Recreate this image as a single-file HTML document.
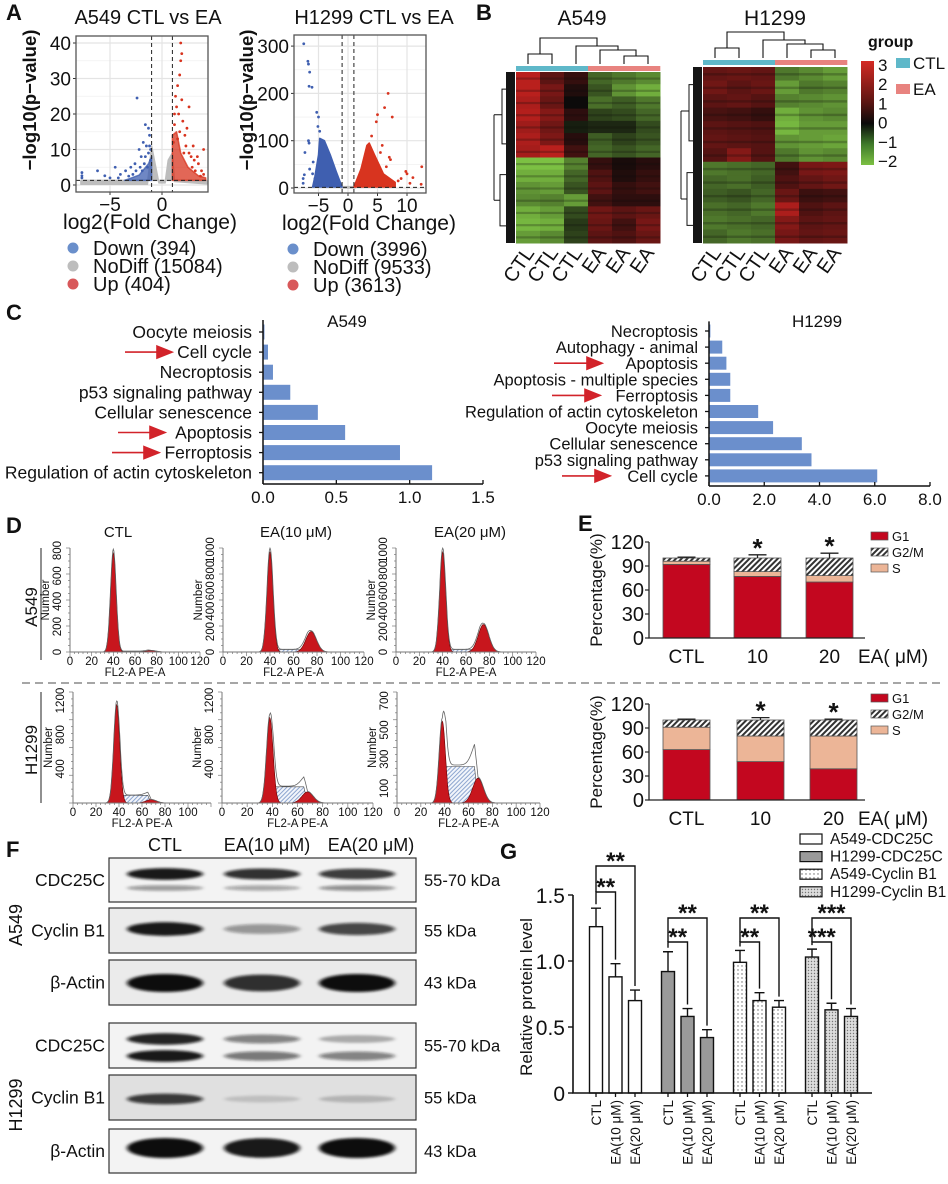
<!DOCTYPE html>
<html><head><meta charset="utf-8">
<style>
body{margin:0;background:#fff;width:948px;height:1179px;overflow:hidden}
svg text{font-family:"Liberation Sans",Arial,sans-serif;fill:#111}
</style></head>
<body>
<svg id="fig" width="948" height="1179" viewBox="0 0 948 1179" xmlns="http://www.w3.org/2000/svg">
<defs>
  <pattern id="hatch" width="4" height="4" patternUnits="userSpaceOnUse" patternTransform="rotate(45)"><rect width="4" height="4" fill="#fff"/><rect width="2" height="4" fill="#333"/></pattern>
  <pattern id="blueHatch" width="3" height="3" patternUnits="userSpaceOnUse" patternTransform="rotate(45)"><rect width="3" height="3" fill="#f2f5fb"/><rect width="1" height="3" fill="#8da5cf"/></pattern>
  <pattern id="dots" width="4" height="4" patternUnits="userSpaceOnUse"><rect width="4" height="4" fill="#fff"/><circle cx="2" cy="2" r="0.7" fill="#666"/></pattern>
  <pattern id="dotsGrey" width="3" height="3" patternUnits="userSpaceOnUse"><rect width="3" height="3" fill="#ddd"/><circle cx="1.5" cy="1.5" r="0.7" fill="#777"/></pattern>
  <linearGradient id="cbar" x1="0" y1="0" x2="0" y2="1">
    <stop offset="0" stop-color="#d42a24"/><stop offset="0.4" stop-color="#5a1512"/><stop offset="0.6" stop-color="#0a0a0a"/><stop offset="0.8" stop-color="#3f7a2a"/><stop offset="1" stop-color="#7cc043"/>
  </linearGradient>
  <filter id="blur" x="-20%" y="-100%" width="140%" height="300%"><feGaussianBlur stdDeviation="2 1.3"/></filter>
</defs>

<text x="6" y="20" font-size="22" font-weight="bold">A</text>
<text x="476" y="20" font-size="22" font-weight="bold">B</text>
<text x="6" y="320" font-size="22" font-weight="bold">C</text>
<text x="6" y="533" font-size="22" font-weight="bold">D</text>
<text x="578" y="531" font-size="22" font-weight="bold">E</text>
<text x="6" y="857" font-size="22" font-weight="bold">F</text>
<text x="500" y="859" font-size="22" font-weight="bold">G</text>

<text x="148" y="24" font-size="20" text-anchor="middle">A549 CTL vs EA</text>
<text x="374" y="24" font-size="20" text-anchor="middle">H1299  CTL vs EA</text>
<text transform="translate(36,100) rotate(-90)" font-size="18.5" font-weight="bold" text-anchor="middle">−log10(p−value)</text>
<text transform="translate(253,100) rotate(-90)" font-size="18.5" font-weight="bold" text-anchor="middle">−log10(p−value)</text>
<text x="150" y="229" font-size="21" text-anchor="middle">log2(Fold Change)</text>
<text x="369" y="230" font-size="21" text-anchor="middle">log2(Fold Change)</text>

<text x="582" y="25" font-size="21" text-anchor="middle">A549</text>
<text x="775" y="25" font-size="21" text-anchor="middle">H1299</text>
<text x="868" y="47" font-size="16" font-weight="bold">group</text>
<rect x="896" y="58" width="14" height="10" fill="#5fb8c9"/>
<text x="913" y="69" font-size="17">CTL</text>
<rect x="896" y="84" width="14" height="10" fill="#e8837f"/>
<text x="913" y="95" font-size="17">EA</text>
<rect x="861" y="61" width="13" height="104" fill="url(#cbar)"/>

<text x="347" y="327" font-size="17" text-anchor="middle">A549</text>
<text x="817" y="327" font-size="17" text-anchor="middle">H1299</text>

<text x="118" y="537" font-size="15" text-anchor="middle">CTL</text>
<text x="296" y="537" font-size="15" text-anchor="middle">EA(10 μM)</text>
<text x="470" y="537" font-size="15" text-anchor="middle">EA(20 μM)</text>
<text transform="translate(37,607) rotate(-90)" font-size="17" text-anchor="middle">A549</text>
<line x1="41" y1="548" x2="41" y2="660" stroke="#222" stroke-width="1"/>
<text transform="translate(37,750) rotate(-90)" font-size="17" text-anchor="middle">H1299</text>
<line x1="41" y1="692" x2="41" y2="803" stroke="#222" stroke-width="1"/>
<line x1="22" y1="683" x2="940" y2="683" stroke="#888" stroke-width="1.5" stroke-dasharray="8,5"/>

<text transform="translate(602,590) rotate(-90)" font-size="17" text-anchor="middle">Percentage(%)</text>
<text transform="translate(602,752) rotate(-90)" font-size="17" text-anchor="middle">Percentage(%)</text>

<text x="165" y="851" font-size="18" text-anchor="middle">CTL</text>
<text x="267" y="851" font-size="18" text-anchor="middle">EA(10 μM)</text>
<text x="371" y="851" font-size="18" text-anchor="middle">EA(20 μM)</text>
<text transform="translate(22,925) rotate(-90)" font-size="18" text-anchor="middle">A549</text>
<text transform="translate(22,1105) rotate(-90)" font-size="18" text-anchor="middle">H1299</text>

<text transform="translate(532,997) rotate(-90)" font-size="17" text-anchor="middle">Relative protein level</text>

<g id="dyn"></g>
</svg>

<script>
// ---------------- DATA ----------------
const a549DownPts = [[-7.7,3.5],[-7.7,2.6],[-7.7,2],[-6.2,4],[-5.5,2.6],[-4.5,5],[-4,3],[-3.5,4],[-3,5],[-2.6,6],[-2.4,24.5],[-2.2,10],[-2,8],[-1.8,12],[-1.6,17],[-1.5,11],[-1.3,9],[-1.2,14],[-1.1,7],[-1.4,5],[-2.8,3],[-1.9,4],[-1.6,8],[-1.2,11],[-2.5,4],[-3.2,2.5],[-4.2,2],[-5,2],[-1.7,6],[-2.1,5],[-1.3,16],[-1.1,10]];
const a549DownCloud = [[-1,1.3],[-3.6,1.3],[-2.2,2.8],[-1.3,6],[-1,8]];
const a549UpPts = [[1.8,40],[1.9,37],[1.8,35],[1.7,31],[1.5,28],[2.6,22],[1.3,25],[1.6,20],[2,18],[3,11],[4,10],[1.2,17],[2.2,14],[3.5,6],[4,3],[2.8,8],[1.5,13],[1.1,12],[2.4,16],[1.9,24],[3.2,4],[2.6,9],[1.2,20],[1.4,22],[2.3,11],[3.4,8],[2.9,5],[3.8,4],[1.7,15],[2.1,9],[3.1,7],[3.7,2.5]];
const a549UpCloud = [[1,1.3],[1,14],[1.4,15],[1.8,9],[2.5,5],[3.5,2.6],[4.2,2],[4.2,1.3]];
const a549GreyCloud = [[-7.8,0.2],[-1.4,0.2],[-1.0,11],[-0.6,5],[-0.3,0.6],[0.3,0.6],[0.6,7],[1,9],[1.2,1],[4.3,0.3],[4.3,1.3],[-7.8,1.3]];
const h1299DownPts = [[-7.5,305],[-6.8,268],[-6.7,262],[-6.5,245],[-6.6,215],[-6.1,213],[-5.3,160],[-5,150],[-5.1,130],[-4.8,120],[-7.3,75],[-6.7,100],[-7.4,28],[-7.6,20],[-7.6,10],[-6.5,40],[-6,30],[-5.9,55],[-6.6,95],[-5.6,20]];
const h1299DownCloud = [[-1,2],[-6,2],[-5.6,25],[-5,70],[-4.8,105],[-4,100],[-3,70],[-2,35]];
const h1299UpPts = [[6.8,200],[6.2,170],[5,155],[4.8,140],[7.5,150],[4,110],[5.8,90],[7,65],[7.2,60],[9.8,35],[10,30],[11,22],[12.5,45],[12.4,8],[9,20],[8.5,15],[10.5,10],[5.5,75],[6.5,45]];
const h1299UpCloud = [[1,2],[2.2,40],[3.2,90],[3.6,95],[4.5,70],[6,30],[8,12],[8,2]];
const h1299GreyCloud = [[-1.2,0],[1.2,0],[1,3],[-1,3]];
const a549YTicks = [0,10,20,30,40];
const a549XTicks = [-5,0];
const h1299YTicks = [0,100,200,300];
const h1299XTicks = [-5,0,5,10];
const a549Legend = ['Down (394)','NoDiff (15084)','Up (404)'];
const h1299Legend = ['Down (3996)','NoDiff (9533)','Up (3613)'];

const heatA549 = [
 [2.6,1.2,0.6,-1,-1.2,-1.4],[2.6,1.6,0.3,-0.8,-1.5,-1.8],[2.4,1.4,0.0,-1.1,-0.9,-1.2],[2.5,1.8,0.5,-0.6,-0.7,-1.0],
 [2.2,1.5,-0.2,-0.3,-0.3,-0.7],[2.4,1.7,0.4,-0.9,-0.6,-0.8],[2.3,2.6,0.8,-1.0,-0.8,-1.0],
 [-2.0,-2.0,-1.3,0.6,0.2,0.4],[-1.8,-1.8,-1.0,1.0,0.3,0.6],[-1.5,-1.6,-0.8,1.2,0.6,0.8],[-1.4,-1.3,-1.6,0.8,0.5,0.5],
 [-1.8,-1.6,-0.7,1.5,1.2,1.4],[-1.9,-1.8,-0.5,1.4,0.8,1.6],[-1.6,-1.4,-0.6,1.2,1.0,1.4]];
const heatH1299 = [
 [1.3,1.4,1.3,-1.2,-1.4,-1.6],[1.5,1.2,1.4,-1.6,-1.2,-1.3],[1.2,1.3,1.1,-1.3,-1.4,-1.5],[0.9,0.8,0.6,-1.8,-1.5,-1.4],
 [1.2,1.1,1.0,-1.9,-1.6,-1.6],[1.3,1.2,1.1,-1.5,-1.6,-1.7],[1.1,1.8,1.1,-1.2,-1.5,-1.4],
 [-1.2,-1.1,-1.0,0.8,1.6,1.7],[-1.0,-1.1,-0.9,1.0,1.3,1.5],[-0.9,-0.8,-1.0,1.4,0.7,0.8],[-1.1,-1.0,-1.2,2.4,1.0,1.2],
 [-1.2,-1.1,-1.0,1.8,1.2,1.3],[-1.0,-1.2,-1.1,1.6,1.3,1.4]];
const heatSamples = ['CTL','CTL','CTL','EA','EA','EA'];
const heatScaleTicks = [3,2,1,0,-1,-2];

const goA549Terms = ['Oocyte meiosis','Cell cycle','Necroptosis','p53 signaling pathway','Cellular senescence','Apoptosis','Ferroptosis','Regulation of actin cytoskeleton'];
const goA549Values = [0.01,0.034,0.068,0.186,0.374,0.56,0.934,1.153];
const goA549Arrows = [false,true,false,false,false,true,true,false];
const goA549Ticks = [0,0.5,1.0,1.5];
const goH1299Terms = ['Necroptosis','Autophagy - animal','Apoptosis','Apoptosis - multiple species','Ferroptosis','Regulation of actin cytoskeleton','Oocyte meiosis','Cellular senescence','p53 signaling pathway','Cell cycle'];
const goH1299Values = [0.05,0.48,0.63,0.77,0.77,1.78,2.32,3.36,3.71,6.09];
const goH1299Arrows = [false,false,true,false,true,false,false,false,false,true];
const goH1299Ticks = [0,2,4,6,8];

const flowTopYMax = [820,1020,1020];
const flowTopG1 = [780,980,980];
const flowTopG2 = [12,200,270];
const flowTopS = [6,25,25];
const flowTopYTicks = [[0,200,400,600,800],[0,200,400,600,800,1000],[0,200,400,600,800,1000]];
const flowBotYMax = [1300,1300,760];
const flowBotG1 = [1150,1000,560];
const flowBotG2 = [40,130,170];
const flowBotS = [90,190,250];
const flowBotYTicks = [[400,800,1200],[400,800,1200],[100,300,500,700]];
const flowXTicks = [0,20,40,60,80,100,120];

const cycleGroups = ['CTL','10','20'];
const cycleTopG1 = [92,77,70];
const cycleTopS = [4,6,8];
const cycleTopG2M = [4,17,22];
const cycleTopErr = [1,4,6];
const cycleBotG1 = [63,48,39];
const cycleBotS = [28,32,41];
const cycleBotG2M = [9,20,20];
const cycleBotErr = [1,3,1];
const cycleSig = [false,true,true];
const cycleYTicks = [0,30,60,90,120];

const blotA549CDC25CUpper = [0.95,0.85,0.8];
const blotA549CDC25CLower = [0.4,0.35,0.45];
const blotA549CyclinB1 = [0.95,0.4,0.75];
const blotA549Actin = [1,0.85,1];
const blotH1299CDC25CUpper = [0.9,0.5,0.3];
const blotH1299CDC25CLower = [0.95,0.55,0.5];
const blotH1299CyclinB1 = [0.8,0.15,0.2];
const blotH1299Actin = [1,0.95,1];

const proteinSeries = ['A549-CDC25C','H1299-CDC25C','A549-Cyclin B1','H1299-Cyclin B1'];
const proteinConds = ['CTL','EA(10 μM)','EA(20 μM)'];
const proteinA549CDC25C = [1.26,0.88,0.70];
const proteinH1299CDC25C = [0.92,0.58,0.42];
const proteinA549CyclinB1 = [0.99,0.70,0.65];
const proteinH1299CyclinB1 = [1.03,0.63,0.58];
const proteinA549CDC25CErr = [0.14,0.10,0.08];
const proteinH1299CDC25CErr = [0.15,0.06,0.06];
const proteinA549CyclinB1Err = [0.09,0.06,0.05];
const proteinH1299CyclinB1Err = [0.06,0.05,0.06];
const proteinSigInner = ['**','**','**','***'];
const proteinSigOuter = ['**','**','**','***'];
const proteinYTicks = [0,0.5,1.0,1.5];

// ---------------- DRAWING ----------------
const NS='http://www.w3.org/2000/svg';
const root=document.getElementById('dyn');
function mk(tag,attrs,parent){const e=document.createElementNS(NS,tag);for(const k in attrs)e.setAttribute(k,attrs[k]);(parent||root).appendChild(e);return e;}
function grp(parent){return mk('g',{},parent);}
function txt(s,x,y,size,anchor,parent,extra){const t=mk('text',Object.assign({x:x,y:y,'font-size':size,'text-anchor':anchor||'start'},extra||{}),parent);t.textContent=s;return t;}

function volcano(cfg){
  const g=grp();
  
  
  const sx=v=>cfg.x0+(v-cfg.xmin)*cfg.kx, sy=v=>cfg.y0-v*cfg.ky;
  const bg=mk('rect',{x:cfg.bx0,y:cfg.by0,width:cfg.bx1-cfg.bx0,height:cfg.by1-cfg.by0,fill:'#fff'},g);
  
  
  cfg.yTicks.forEach((t,i)=>{
    const gl=mk('line',{x1:cfg.bx0,x2:cfg.bx1,y1:sy(t),y2:sy(t),stroke:'#e4e4e4','stroke-width':1.2},g);
    
    
    if(i<cfg.yTicks.length-1){const m=(t+cfg.yTicks[i+1])/2;const gm=mk('line',{x1:cfg.bx0,x2:cfg.bx1,y1:sy(m),y2:sy(m),stroke:'#f0f0f0','stroke-width':0.8},g);
      
      }
    const tl=txt(String(t),cfg.bx0-5,sy(t)+7,19,'end',g);
    
    
    const tk=mk('line',{x1:cfg.bx0-3,x2:cfg.bx0,y1:sy(t),y2:sy(t),stroke:'#333'},g);
    
    
  });
  cfg.xTicks.forEach(t=>{
    const gl=mk('line',{x1:sx(t),x2:sx(t),y1:cfg.by0,y2:cfg.by1,stroke:'#e4e4e4','stroke-width':1.2},g);
    
    
    const tl=txt(t<0?'−'+Math.abs(t):String(t),sx(t),cfg.by1+19,19,'middle',g);
    
    
    const tk=mk('line',{x1:sx(t),x2:sx(t),y1:cfg.by1,y2:cfg.by1+3,stroke:'#333'},g);
    
    
  });
  const poly=(pts,col,nm,op)=>{const p=mk('polygon',{points:pts.map(q=>sx(q[0])+','+sy(q[1])).join(' '),fill:col,'fill-opacity':op,stroke:col,'stroke-width':1.5,'stroke-opacity':op,'stroke-linejoin':'round'},g);
    
    };
  poly(cfg.grey,'#bdbdbd','nodiff-cloud',1);
  poly(cfg.downCloud,'#3f5fb0','down-cloud',cfg.op);
  poly(cfg.upCloud,'#d8341f','up-cloud',cfg.op);
  cfg.down.forEach(p=>{const c=mk('circle',{cx:sx(p[0]),cy:sy(p[1]),r:1.4,fill:'#3f5fb0'},g);
    
    });
  cfg.up.forEach(p=>{const c=mk('circle',{cx:sx(p[0]),cy:sy(p[1]),r:1.4,fill:'#d8341f'},g);
    
    });
  [-1,1].forEach(v=>{const l=mk('line',{x1:sx(v),x2:sx(v),y1:cfg.by0,y2:cfg.by1,stroke:'#222','stroke-dasharray':'4,3','stroke-width':1},g);
    
    });
  const h=mk('line',{x1:cfg.bx0,x2:cfg.bx1,y1:sy(1.3),y2:sy(1.3),stroke:'#222','stroke-dasharray':'4,3','stroke-width':1},g);
  
  
  const fr=mk('rect',{x:cfg.bx0,y:cfg.by0,width:cfg.bx1-cfg.bx0,height:cfg.by1-cfg.by0,fill:'none',stroke:'#555','stroke-width':1.3},g);
  
  
  const cols=['#6a8fcb','#bdbdbd','#d8585a'];
  cfg.legend.forEach((s,i)=>{
    const c=mk('circle',{cx:cfg.lx,cy:cfg.ly+i*18,r:5.5,fill:cols[i]},g);
    
    
    const t=txt(s,cfg.lx+20,cfg.ly+i*18+7,20,'start',g);
    
    
  });
}
volcano({name:'volcano-a549',bx0:76,bx1:208,by0:36,by1:192,x0:162,xmin:0,kx:10.4,y0:185,ky:3.55,op:0.75,
  yTicks:a549YTicks,xTicks:a549XTicks,grey:a549GreyCloud,downCloud:a549DownCloud,upCloud:a549UpCloud,down:a549DownPts,up:a549UpPts,legend:a549Legend,lx:73,ly:248});
volcano({name:'volcano-h1299',bx0:294,bx1:426,by0:35,by1:193,x0:348,xmin:0,kx:5.9,y0:188,ky:0.473,op:1,
  yTicks:h1299YTicks,xTicks:h1299XTicks,grey:h1299GreyCloud,downCloud:h1299DownCloud,upCloud:h1299UpCloud,down:h1299DownPts,up:h1299UpPts,legend:h1299Legend,lx:293,ly:249});

function heatColor(v){
  const c=Math.max(-2,Math.min(3,v));
  if(c>=0){const t=c/3;return `rgb(${Math.round(12+t*200)},${Math.round(10+t*25)},${Math.round(10+t*22)})`;}
  const t=-c/2;return `rgb(${Math.round(12+t*112)},${Math.round(12+t*180)},${Math.round(10+t*57)})`;
}
function heatmap(data,x0,y0,w,h,barY,name){
  const g=grp();
  
  
  const cw=w/6, rh=h/data.length;
  data.forEach((row,r)=>row.forEach((v,c)=>{
    const cell=mk('rect',{x:x0+c*cw,y:y0+r*rh,width:cw+0.5,height:rh+0.5,fill:heatColor(v)},g);
    
    
    const s=mk('rect',{x:x0+c*cw,y:y0+r*rh+rh*0.45,width:cw,height:rh*0.18,fill:heatColor(v*0.75)},g);
    
    
  }));
  heatSamples.forEach((s,c)=>{
    const b=mk('rect',{x:x0+c*cw,y:barY,width:cw+0.3,height:5,fill:s==='CTL'?'#5fb8c9':'#e8837f'},g);
    
    
    const cx=x0+c*cw+cw/2;
    const t=txt(s,cx+7,y0+h+10,20,'end',g,{transform:`rotate(-55 ${cx+7} ${y0+h+10})`});
    
    
  });
  const d=mk('path',{d:`M${x0-2},${y0+2} V${y0+h-2} M${x0-22},${y0+h*0.25} H${x0-14} V${y0+h*0.1} H${x0-6} M${x0-14},${y0+h*0.25} V${y0+h*0.42} H${x0-6} M${x0-22},${y0+h*0.25} V${y0+h*0.75} M${x0-22},${y0+h*0.75} H${x0-16} V${y0+h*0.6} H${x0-8} M${x0-16},${y0+h*0.75} V${y0+h*0.9} H${x0-8}`,fill:'none',stroke:'#111','stroke-width':1},g);
  
  
  const dense=mk('rect',{x:x0-10,y:y0,width:9,height:h,fill:'#151515'},g);
  
  
  const c=i=>x0+cw*(i+0.5);
  const top=barY-2;
  const cd=mk('path',{d:`M${c(0)},${top} V${top-10} H${c(1)} V${top} M${(c(0)+c(1))/2},${top-10} V${top-26} H${(c(2)+ (c(3)+(c(4)+c(5))/2)/2)/2} V${top-18} M${c(2)},${top} V${top-18} H${(c(3)+(c(4)+c(5))/2)/2} V${top-14} H${c(3)} V${top} M${(c(3)+(c(4)+c(5))/2)/2},${top-14} H${(c(4)+c(5))/2} V${top-8} H${c(4)} V${top} M${(c(4)+c(5))/2},${top-8} H${c(5)} V${top}`,fill:'none',stroke:'#111','stroke-width':1.1},g);
  
  
}
heatmap(heatA549,516,72,144,171,66,'heatmap-a549');
heatmap(heatH1299,703,67,144,176,60,'heatmap-h1299');
heatScaleTicks.forEach((t,i)=>{
  const l=txt(t<0?'−'+Math.abs(t):String(t),878,71+i*19.2,17,'start');
  
  
});

function keggChart(terms,vals,arrows,ticks,ax,xmax,axRight,yFirst,step,barH,axisY,fs,name,arrowTips,arrowLen){
  const g=grp();
  
  
  const sx=v=>ax+v/xmax*(axRight-ax);
  let ai=0;
  terms.forEach((t,i)=>{
    const y=yFirst+i*step;
    const b=mk('rect',{x:ax,y:y-barH/2,width:sx(vals[i])-ax,height:barH,fill:'#6b8fcc'},g);
    
    
    const tk=mk('line',{x1:ax-4,x2:ax,y1:y,y2:y,stroke:'#111','stroke-width':1.3},g);
    
    
    const lb=txt(t,ax-11,y+6,fs,'end',g);
    
    
    if(arrows[i]){
      const xe=arrowTips[ai++];
      const a=mk('path',{d:`M${xe-arrowLen},${y} H${xe-12} M${xe-15},${y-6} L${xe},${y} L${xe-15},${y+6} Z`,stroke:'#d2232a','stroke-width':1.6,fill:'#d2232a'},g);
      
      
    }
  });
  const yax=mk('line',{x1:ax,x2:ax,y1:yFirst-step*0.6,y2:axisY,stroke:'#111','stroke-width':1.5},g);
  
  
  const xax=mk('line',{x1:ax,x2:axRight,y1:axisY,y2:axisY,stroke:'#111','stroke-width':1.5},g);
  
  
  ticks.forEach(t=>{
    const tk=mk('line',{x1:sx(t),x2:sx(t),y1:axisY,y2:axisY-4,stroke:'#111','stroke-width':1.3},g);
    
    
    const tl=txt(t.toFixed(1),sx(t),axisY+19,17,'middle',g);
    
    
  });
}
keggChart(goA549Terms,goA549Values,goA549Arrows,goA549Ticks,263,1.5,483,332,20.1,15,484,17.5,'kegg-a549',[172,165,159],47);
keggChart(goH1299Terms,goH1299Values,goH1299Arrows,goH1299Ticks,709,8,930,331,16.1,13,486,16.5,'kegg-h1299',[602,600,610],48);

function gauss(x,m,s){return Math.exp(-0.5*((x-m)/s)**2);}
function flowPlot(x0,w,yTop,yBot,ymax,g1,g2,s,yticks,g1m,g2m,name,xmaxLabel){
  const g=grp();
  
  
  const sx=v=>x0+v/120*w, sy=v=>yBot-v/ymax*(yBot-yTop);
  const s1=2.6, s2=4.5;
  const sPhase=x=> (x>g1m && x<g2m)? s*Math.min(1,(x-g1m)/3)*Math.min(1,(g2m-x)/3):0;
  let total='',red1,red2,sp;
  for(let x=20;x<=100;x+=0.5){
    const tv=g1*gauss(x,g1m,s1)+g2*gauss(x,g2m,s2)+sPhase(x);
    total+=(x===20?'M':'L')+sx(x).toFixed(1)+','+sy(tv*1.04).toFixed(1);
  }
  red1='M'+sx(g1m-10)+','+yBot; for(let x=g1m-10;x<=g1m+10;x+=0.5) red1+='L'+sx(x).toFixed(1)+','+sy(g1*gauss(x,g1m,s1)).toFixed(1); red1+='L'+sx(g1m+10)+','+yBot+'Z';
  red2='M'+sx(g2m-14)+','+yBot; for(let x=g2m-14;x<=g2m+14;x+=0.5) red2+='L'+sx(x).toFixed(1)+','+sy(g2*gauss(x,g2m,s2)).toFixed(1); red2+='L'+sx(g2m+14)+','+yBot+'Z';
  sp='M'+sx(g1m)+','+yBot; for(let x=g1m;x<=g2m;x+=0.5) sp+='L'+sx(x).toFixed(1)+','+sy(sPhase(x)).toFixed(1); sp+='L'+sx(g2m)+','+yBot+'Z';
  const a=mk('path',{d:sp,fill:'url(#blueHatch)',stroke:'#444','stroke-width':0.6},g);
  
  
  const b=mk('path',{d:red1,fill:'#c8161d',stroke:'#600','stroke-width':0.6},g);
  
  
  const c=mk('path',{d:red2,fill:'#c8161d',stroke:'#600','stroke-width':0.6},g);
  
  
  const t=mk('path',{d:total,fill:'none',stroke:'#666','stroke-width':0.8},g);
  
  
  const ax=mk('path',{d:`M${x0},${yTop} V${yBot} H${x0+w}`,fill:'none',stroke:'#777','stroke-width':1},g);
  
  
  for(let v=0;v<=120;v+=4){const m=mk('line',{x1:sx(v),x2:sx(v),y1:yBot,y2:yBot+(v%20===0?4:2),stroke:'#777','stroke-width':0.7},g);
    
    }
  for(let k=0;k<=16;k++){const yy=yTop+k*(yBot-yTop)/16;const m=mk('line',{x1:x0-(k%4===0?4:2),x2:x0,y1:yy,y2:yy,stroke:'#777','stroke-width':0.7},g);
    
    }
  flowXTicks.forEach(v=>{ if(v>xmaxLabel) return;
    const l=txt(String(v),sx(v),yBot+13,11.5,'middle',g);
    
    });
  const xl=txt('FL2-A PE-A',x0+w/2,yBot+24,11.5,'middle',g);
  
  
  yticks.forEach(v=>{
    const l=txt(String(v),x0-9,sy(v),11.5,'middle',g,{transform:`rotate(-90 ${x0-9} ${sy(v)})`});
    
    });
  const yl=txt('Number',x0-21,(yTop+yBot)/2,11.5,'middle',g,{transform:`rotate(-90 ${x0-21} ${(yTop+yBot)/2})`});
  
  
}
const flowTopX=[70,223,396], flowTopW=[130,141,140];
const flowBotX=[73,222,397], flowBotW=[138,151,143];
for(let i=0;i<3;i++){
  flowPlot(flowTopX[i],flowTopW[i],548,652,flowTopYMax[i],flowTopG1[i],flowTopG2[i],flowTopS[i],flowTopYTicks[i],40,75,'flow-a549-'+i,120);
  flowPlot(flowBotX[i],flowBotW[i],692,803,flowBotYMax[i],flowBotG1[i],flowBotG2[i],flowBotS[i],flowBotYTicks[i],38,68,'flow-h1299-'+i,i===0?100:120);
}

function cycleChart(G1,S,G2,Err,base,barX,legY,name){
  const g=grp();
  
  
  const ax=649, k=96/120, sy=v=>base-v*k, bw=47;
  cycleGroups.forEach((c,i)=>{
    const x=barX[i];
    const r1=mk('rect',{x:x,y:sy(G1[i]),width:bw,height:G1[i]*k,fill:'#c3071f',stroke:'#555','stroke-width':0.8},g);
    
    
    const r2=mk('rect',{x:x,y:sy(G1[i]+S[i]),width:bw,height:S[i]*k,fill:'#ecb597',stroke:'#555','stroke-width':0.8},g);
    
    
    const r3=mk('rect',{x:x,y:sy(G1[i]+S[i]+G2[i]),width:bw,height:G2[i]*k,fill:'url(#hatch)',stroke:'#555','stroke-width':0.8},g);
    
    
    const tot=G1[i]+S[i]+G2[i];
    const e=mk('path',{d:`M${x+bw/2},${sy(tot)} V${sy(tot+Err[i])} M${x+bw/2-9},${sy(tot+Err[i])} H${x+bw/2+9}`,stroke:'#222','stroke-width':1.3,fill:'none'},g);
    
    
    if(cycleSig[i]){const s=txt('*',x+bw/2,sy(tot+Err[i])+2,26,'middle',g,{'font-weight':'bold'});
      
      }
    const l=txt(c,x+bw/2,base+25,19,'middle',g);
    
    
  });
  const unit=txt('EA( μM)',858,base+25,19,'start',g);
  
  
  const axp=mk('path',{d:`M${ax},${sy(120)} V${base} H865`,fill:'none',stroke:'#222','stroke-width':1.3},g);
  
  
  cycleYTicks.forEach(t=>{
    const tk=mk('line',{x1:ax-4,x2:ax,y1:sy(t),y2:sy(t),stroke:'#222','stroke-width':1.2},g);
    
    
    const tl=txt(String(t),ax-5,sy(t)+7,20,'end',g);
    
    
  });
  [['G1','#c3071f'],['G2/M','url(#hatch)'],['S','#ecb597']].forEach((p,i)=>{
    const sw=mk('rect',{x:871,y:legY+i*16-4,width:17,height:8,fill:p[1],stroke:'#555','stroke-width':0.7},g);
    
    
    const lt=txt(p[0],892,legY+i*16+5,13,'start',g);
    
    
  });
}
cycleChart(cycleTopG1,cycleTopS,cycleTopG2M,cycleTopErr,638,[663,734,806],536,'cycle-a549');
cycleChart(cycleBotG1,cycleBotS,cycleBotG2M,cycleBotErr,800,[663,737,810],698,'cycle-h1299');

const blotBoxes=[[858,902],[908,953],[960,1005],[1023,1068],[1075,1120],[1129,1173]];
const blotNames=['CDC25C','Cyclin B1','β-Actin','CDC25C','Cyclin B1','β-Actin'];
const blotKda=['55-70 kDa','55 kDa','43 kDa','55-70 kDa','55 kDa','43 kDa'];
const blotBands=[
  [[blotA549CDC25CUpper,16,6],[blotA549CDC25CLower,30,4]],
  [[blotA549CyclinB1,21,7]],
  [[blotA549Actin,23,9]],
  [[blotH1299CDC25CUpper,16,6],[blotH1299CDC25CLower,33,6]],
  [[blotH1299CyclinB1,24,6]],
  [[blotH1299Actin,19,10]]];
const laneX=[165,262,357];
blotBoxes.forEach((bx,i)=>{
  const g=grp();
  
  
  const bg=mk('rect',{x:109,y:bx[0],width:307,height:bx[1]-bx[0],fill:i===4?'#e0e0e0':(i===1||i===2?'#ebebeb':'#f3f3f3'),stroke:'#333','stroke-width':1.2},g);
  
  
  blotBands[i].forEach(bd=>{
    bd[0].forEach((v,l)=>{
      const e=mk('ellipse',{cx:laneX[l],cy:bx[0]+bd[1],rx:38,ry:bd[2]*(0.5+0.5*v),fill:'#111','fill-opacity':v,filter:'url(#blur)'},g);
      
      
    });
  });
  const lb=txt(blotNames[i],105,(bx[0]+bx[1])/2+6,17.5,'end',g);
  
  
  const kd=txt(blotKda[i],424,(bx[0]+bx[1])/2+6,16.5,'start',g);
  
  
});

(function(){
  const g=grp();
  
  
  const base=1093, k=132, sy=v=>base-v*k, ax=573, bw=13;
  const series=[proteinA549CDC25C,proteinH1299CDC25C,proteinA549CyclinB1,proteinH1299CyclinB1];
  const errs=[proteinA549CDC25CErr,proteinH1299CDC25CErr,proteinA549CyclinB1Err,proteinH1299CyclinB1Err];
  const fills=['#fff','#9a9a9a','url(#dots)','url(#dotsGrey)'];
  const groupStart=[596,668,740,812], gap=19.5;
  series.forEach((vals,s)=>{
    const cx=vals.map((v,j)=>groupStart[s]+j*gap);
    vals.forEach((v,j)=>{
      const r=mk('rect',{x:cx[j]-bw/2,y:sy(v),width:bw,height:v*k,fill:fills[s],stroke:'#111','stroke-width':1.4},g);
      
      
      const top=sy(v+errs[s][j]);
      const e=mk('path',{d:`M${cx[j]},${sy(v)} V${top} M${cx[j]-5},${top} H${cx[j]+5}`,stroke:'#111','stroke-width':1.4,fill:'none'},g);
      
      
      const l=txt(proteinConds[j],cx[j]+5,1100,13.5,'end',g,{transform:`rotate(-90 ${cx[j]+5} 1100)`});
      
      
      const tk=mk('line',{x1:cx[j],x2:cx[j],y1:base,y2:base+4,stroke:'#111','stroke-width':1.3},g);
      
      
    });
    const ctlTop=sy(vals[0]+errs[s][0])-4;
    const innerY=s===0?892:942;
    const outerY=s===0?866:918;
    const br1=mk('path',{d:`M${cx[0]},${ctlTop} V${innerY} H${cx[1]} V${sy(vals[1]+errs[s][1])-4}`,stroke:'#111','stroke-width':1.4,fill:'none'},g);
    
    
    const br2=mk('path',{d:`M${cx[0]},${innerY} V${outerY} H${cx[2]} V${sy(vals[2]+errs[s][2])-4}`,stroke:'#111','stroke-width':1.4,fill:'none'},g);
    
    
    const t1=txt(proteinSigInner[s],(cx[0]+cx[1])/2,innerY+3,24,'middle',g,{'font-weight':'bold'});
    
    
    const t2=txt(proteinSigOuter[s],(cx[0]+cx[2])/2,outerY+3,24,'middle',g,{'font-weight':'bold'});
    
    
  });
  const axp=mk('path',{d:`M${ax},${sy(1.5)} V${base} H872`,fill:'none',stroke:'#111','stroke-width':1.6},g);
  
  
  proteinYTicks.forEach(t=>{
    const tk=mk('line',{x1:ax-5,x2:ax,y1:sy(t),y2:sy(t),stroke:'#111','stroke-width':1.4},g);
    
    
    const tl=txt(t===0?'0':t.toFixed(1),ax-8,sy(t)+8,21,'end',g);
    
    
  });
  proteinSeries.forEach((s,i)=>{
    const sw=mk('rect',{x:800,y:834+i*17.6,width:22,height:10,fill:fills[i],stroke:'#111','stroke-width':1.2},g);
    
    
    const lt=txt(s,830,844+i*17.6,15.5,'start',g);
    
    
  });
})();
</script>
</body></html>
